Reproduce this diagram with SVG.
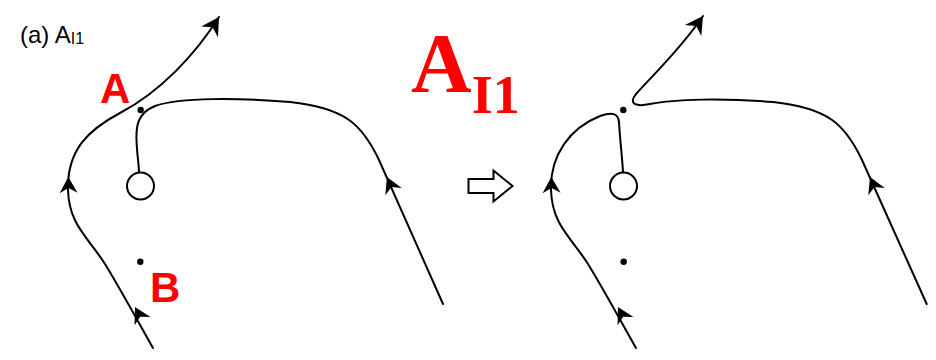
<svg xmlns="http://www.w3.org/2000/svg" xmlns:xlink="http://www.w3.org/1999/xlink" width="936" height="360" viewBox="0 0 936 360">
<style>
.ln{fill:none;stroke:#000;stroke-width:2;stroke-linecap:round}
.dot{fill:#000}
.red{fill:#ff0000;font-family:"Liberation Sans",Arial,sans-serif;font-weight:bold}
</style>
<defs>
<path id="ah" d="M0,0 L-16,-9 L-11,0 L-16,9 Z" fill="#000"/>
<marker id="end" markerUnits="userSpaceOnUse" markerWidth="22" markerHeight="22" viewBox="-17 -10 19 20" refX="0" refY="0" orient="auto">
<path d="M0,0 L-16,-9 L-11,0 L-16,9 Z" fill="#000"/>
</marker>
</defs>
<rect width="936" height="360" fill="#fff"/>
<text x="20" y="43" font-family="Liberation Sans,Arial,sans-serif" font-size="24">(a) A<tspan font-size="16" dy="1">I1</tspan></text>
<g id="title">
<text x="411" y="92" fill="#ff0000" font-family="'Liberation Serif','Times New Roman',serif" font-weight="bold" font-size="84">A<tspan font-size="54" dy="21">I1</tspan></text>
</g>
<g id="left">
<g id="left-curves">
<path class="ln" d="M443,304 L379,160 C362,124 345,108 290,102 C240,98 180,97 155,106 C138,113 136,125 136.5,140 C137,155 139,165 139,172"/>
<path class="ln" marker-end="url(#end)" d="M153,348 C135,316 118,285 105,264 C88,237 69,225 68,190 C67,150 88,130 120,113 C160,92 195,55 219,17"/>
<use xlink:href="#ah" transform="translate(135,307) rotate(-118)"/>
<use xlink:href="#ah" transform="translate(68.3,177) rotate(-91)"/>
<use xlink:href="#ah" transform="translate(387,177) rotate(-114)"/>
</g>
<circle cx="140.5" cy="186" r="13.5" fill="#fff" stroke="#000" stroke-width="2"/>
<circle class="dot" cx="140.7" cy="110" r="3.2"/>
<circle class="dot" cx="140.3" cy="261.7" r="3.2"/>
<text class="red" x="100" y="103" font-size="42">A</text>
<text class="red" x="150" y="302" font-size="42">B</text>
</g>
<g id="hollow-arrow">
<path d="M468.5,179 L493.5,179 L493.5,170.5 L512.5,186 L493.5,201.5 L493.5,193 L468.5,193 Z" fill="#fff" stroke="#000" stroke-width="2" stroke-linejoin="miter"/>
</g>
<g id="right">
<g id="right-curves">
<path class="ln" marker-end="url(#end)" d="M926.7,304 L862,160 C845,124 828,108 773,102 C723,98 675,99 650,104 C636,107 628,104 636,94 C650,78 680,50 703,16"/>
<path class="ln" d="M636,348 C618,316 601,285 588,264 C571,237 552,225 551,190 C550,155 570,128 600,116 C612,112 618,113 619,122 C620,140 622,155 623,172"/>
<use xlink:href="#ah" transform="translate(618,307) rotate(-118)"/>
<use xlink:href="#ah" transform="translate(551.3,177) rotate(-91)"/>
<use xlink:href="#ah" transform="translate(870,177) rotate(-114)"/>
</g>
<circle cx="623.5" cy="186" r="13.5" fill="#fff" stroke="#000" stroke-width="2"/>
<circle class="dot" cx="623.3" cy="110" r="3.2"/>
<circle class="dot" cx="623.7" cy="261.7" r="3.2"/>
</g>
</svg>
